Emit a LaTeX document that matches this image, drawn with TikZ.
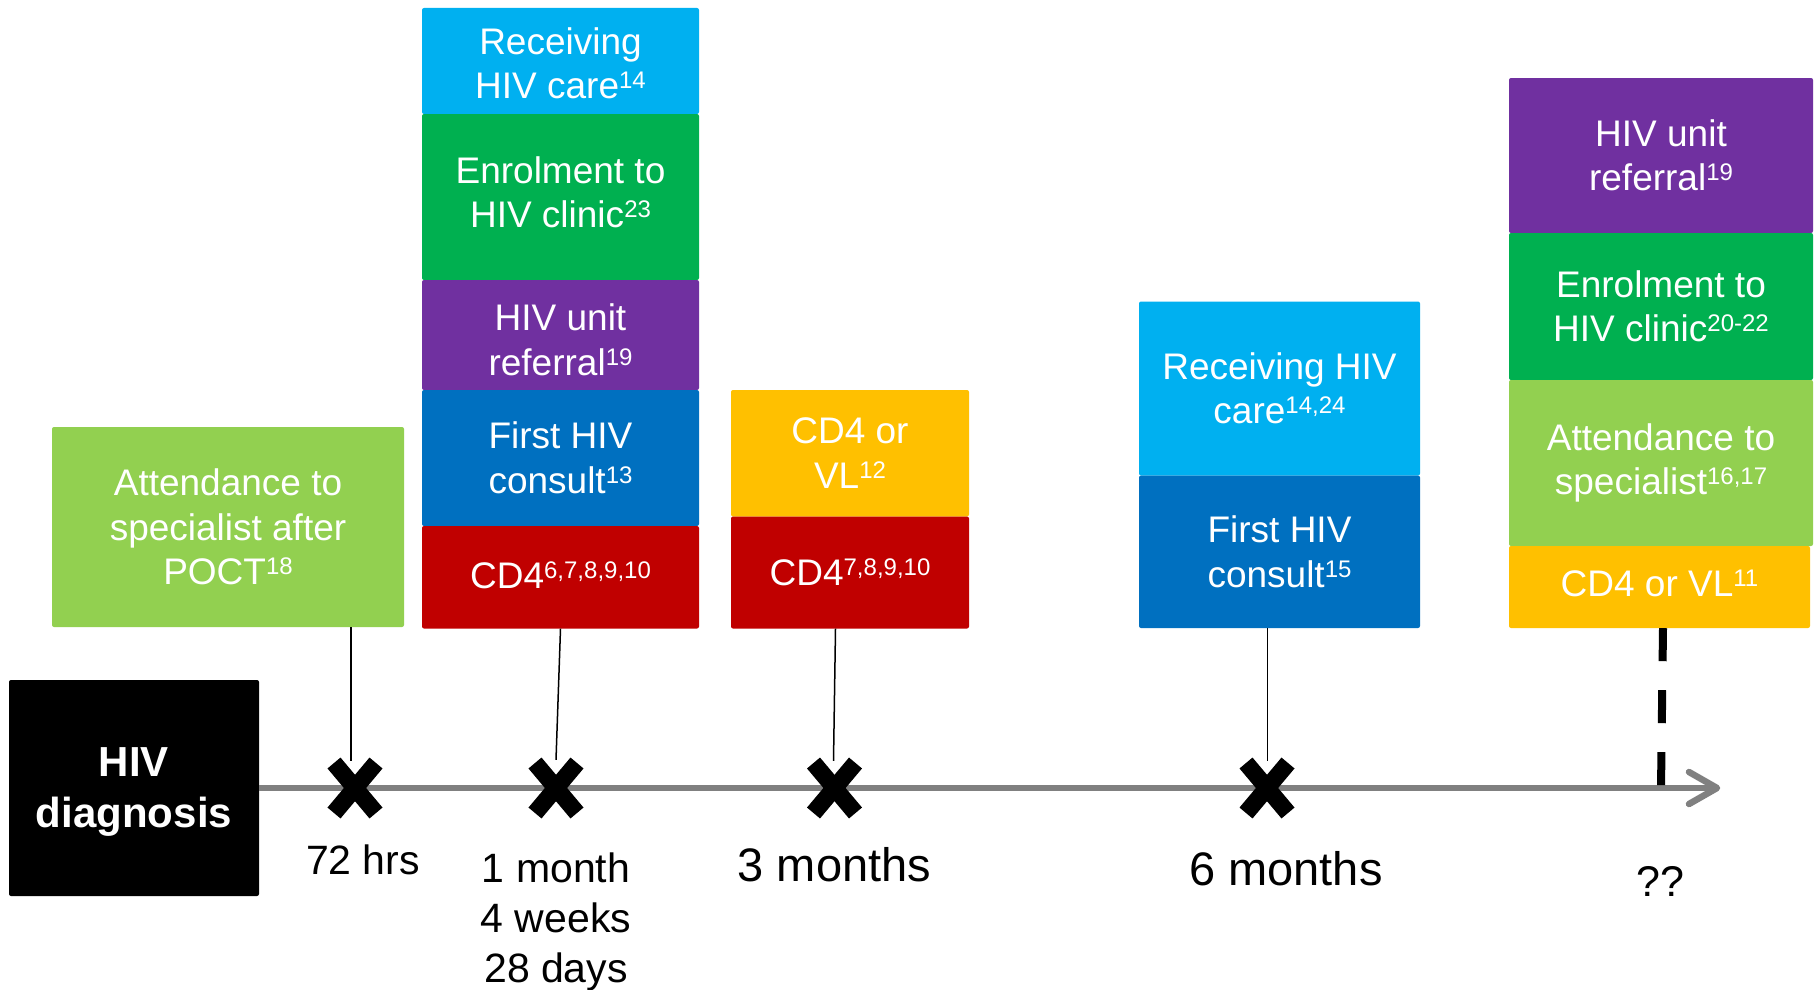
\documentclass[tikz,border=0pt]{standalone}
\usepackage{fontspec}
\setmainfont{Liberation Sans}
\usetikzlibrary{calc}
\definecolor{cLBlue}{HTML}{00B0F0}
\definecolor{cGreen}{HTML}{00B050}
\definecolor{cPurple}{HTML}{7030A0}
\definecolor{cBlue}{HTML}{0070C0}
\definecolor{cRed}{HTML}{C00000}
\definecolor{cGold}{HTML}{FFC000}
\definecolor{cLGreen}{HTML}{92D050}
\definecolor{cGray}{HTML}{808080}
\newcommand\spr[1]{\raisebox{10pt}{\fontsize{24}{24}\selectfont #1}}
\newcommand\boxfont{\fontsize{37}{44.5}\selectfont}
\newcommand\dstrut[1]{\rule[-#1]{0pt}{#1}}
\begin{document}
\begin{tikzpicture}[x=1pt,y=-1pt,
  box/.style={rectangle, rounded corners=2pt, inner sep=0pt, text=white, align=center, font=\boxfont},
  tlabel/.style={anchor=base, inner sep=0pt, font=\fontsize{41}{50}\selectfont},
  biglabel/.style={anchor=base, inner sep=0pt, font=\fontsize{47}{56}\selectfont},
  xmark/.style={inner sep=0pt, minimum width=56pt, minimum height=62pt},
  xline/.style={line width=17pt, line cap=butt},
  conn/.style={line width=1.5pt, black},
  dashconn/.style={line width=8pt, black, dash pattern=on 33pt off 29pt},
  tline/.style={line width=6.5pt, cGray}]
\useasboundingbox (0,0) rectangle (1820,990);

% HIV diagnosis
\node[box, fill=black, font=\bfseries\fontsize{42}{51}\selectfont, text depth=0pt,
  minimum width=250pt, minimum height=216pt] (hiv) at (134,788) {HIV\\diagnosis};

% POCT box
\node[box, fill=cLGreen, minimum width=352pt, minimum height=200pt] (poct) at (228,527)
  {Attendance to\\specialist after\\POCT\spr{18}};

% Stack 1
\node[box, fill=cLBlue, minimum width=277pt, minimum height=106pt] (s1a) at (560.5,61) {\rule{0pt}{31pt}Receiving\\HIV care\spr{14}};
\node[box, fill=cGreen, minimum width=277pt, minimum height=166pt] (s1b) at (560.5,197) {Enrolment to\\HIV clinic\spr{23}\dstrut{10pt}};
\node[box, fill=cPurple, minimum width=277pt, minimum height=110pt] (s1c) at (560.5,335) {\rule{0pt}{36pt}HIV unit\\referral\spr{19}};
\node[box, fill=cBlue, minimum width=277pt, minimum height=136pt] (s1d) at (560.5,458) {First HIV\\consult\spr{13}};
\node[box, fill=cRed, minimum width=277pt, minimum height=102.5pt] (s1e) at (560.5,577.25) {CD4\spr{6,7,8,9,10}\dstrut{4pt}};

% Stack 2
\node[box, fill=cGold, minimum width=238pt, minimum height=126.5pt] (s2a) at (850,453.25) {CD4 or\\VL\spr{12}};
\node[box, fill=cRed, minimum width=238pt, minimum height=112pt] (s2b) at (850,572.5) {CD4\spr{7,8,9,10}};

% Stack 3
\node[box, fill=cLBlue, minimum width=281pt, minimum height=174pt] (s3a) at (1279.5,388.5) {Receiving HIV\\care\spr{14,24}};
\node[box, fill=cBlue, minimum width=281pt, minimum height=152.5pt] (s3b) at (1279.5,551.75) {First HIV\\consult\spr{15}};

% Stack 4
\node[box, fill=cPurple, minimum width=304pt, minimum height=155pt] (s4a) at (1661,155.5) {HIV unit\\referral\spr{19}};
\node[box, fill=cGreen, minimum width=304pt, minimum height=147pt] (s4b) at (1661,306.5) {Enrolment to\\HIV clinic\spr{20-22}};
\node[box, fill=cLGreen, minimum width=304pt, minimum height=166pt] (s4c) at (1661,463) {Attendance to\\specialist\spr{16,17}};
\node[box, fill=cGold, minimum width=301pt, minimum height=82pt] (s4d) at (1659.5,587) {CD4 or VL\spr{11}\dstrut{8pt}};

% Timeline
\coordinate (tip) at (1717,788);
\coordinate (q) at (1661,788);
\draw[tline] (hiv.east) -- ([xshift=-3pt]tip);
\draw[tline, line cap=round, line join=round] ($(tip)+(-28,-16)$) -- (tip) -- ($(tip)+(-28,16)$);

% X marks
\node[xmark] (x1) at (355,788) {};
\node[xmark] (x2) at (556,788) {};
\node[xmark] (x3) at (834.5,788) {};
\node[xmark] (x4) at (1267,788) {};
\foreach \n in {x1,x2,x3,x4} {
  \draw[xline] ([shift={(-21,-25)}]\n.center) -- ([shift={(21,25)}]\n.center);
  \draw[xline] ([shift={(-21,25)}]\n.center) -- ([shift={(21,-25)}]\n.center);
}

% Connectors
\draw[conn] ([xshift=-4pt]x1.north |- poct.south) -- ([xshift=-4pt,yshift=-4pt]x1.north);
\draw[conn] (s1e.south) -- ([yshift=-3pt]x2.north);
\draw[conn] ([xshift=1pt]x3.north |- s2b.south) -- ([xshift=-1pt,yshift=-4pt]x3.north);
\draw[conn] ([xshift=0.5pt]x4.north |- s3b.south) -- ([xshift=0.5pt,yshift=-4pt]x4.north);
\draw[dashconn] ([xshift=3.5pt]s4d.south) -- (q);

% Time labels
\node[tlabel] (t1) at (363,874.5) {72 hrs};
\node[tlabel] (t2a) at (556,882) {1 month};
\node[tlabel] (t2b) at (556,932.5) {4 weeks};
\node[tlabel] (t2c) at (556,982) {28 days};
\node[biglabel] (t3) at (834.5,881) {3 months};
\node[biglabel] (t4) at (1286,885) {6 months};
\node[anchor=base, inner sep=0pt, font=\fontsize{43}{50}\selectfont] (t5) at (1660,896) {??};
\end{tikzpicture}
\end{document}
